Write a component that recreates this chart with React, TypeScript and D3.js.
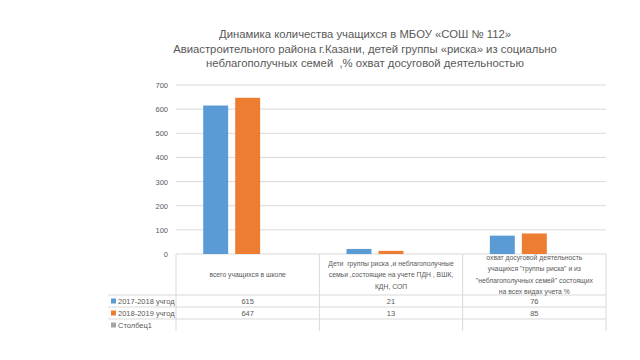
import React from 'react';
import * as d3 from 'd3';

// chart data
const categories = [
  ['всего учащихся в школе'],
  ['Дети  группы риска ,и неблагополучные', 'семьи ,состоящие на учете ПДН , ВШК,', 'КДН, СОП'],
  ['охват досуговой деятельность', 'учащихся "группы риска" и из', '"неблагополучных семей" состоящих', 'на всех видах учета %'],
];
const seriesNames = ['2017-2018 учгод', '2018-2019 учгод', 'Столбец1'];
const values2017 = [615, 21, 76];
const values2018 = [647, 13, 85];
const valuesCol1: (number | null)[] = [null, null, null];
const yTicks = [0, 100, 200, 300, 400, 500, 600, 700];
const titleLines = [
  'Динамика количества учащихся в МБОУ «СОШ № 112»',
  'Авиастроительного района г.Казани, детей группы «риска» из социально',
  'неблагополучных семей  ,% охват досуговой деятельностью',
];

const colors = ['#5b9bd5', '#ed7d31', '#a5a5a5'];
const FONT = "'Liberation Sans', Arial, sans-serif";

export default function App() {
  const series = [values2017, values2018, valuesCol1];
  const left = 176, right = 606, top = 85, bottom = 254;
  const tableLeft = 108;

  const x = d3.scaleBand<number>().domain(categories.map((_, i) => i)).range([left, right]).padding(0);
  const xs = d3.scaleBand<number>().domain(seriesNames.map((_, i) => i))
    .range([0, x.bandwidth()]).paddingInner(0.22).paddingOuter(0.85);
  const y = d3.scaleLinear().domain([0, 700]).range([bottom, top]);

  //table rows
  const headerBottom = 295;
  const rowH = 12;
  const tableBottom = 331;
  const rowLines = [headerBottom, headerBottom + rowH, headerBottom + rowH * 2];

  const headerLineH = 11.5;

  return (
    <div style={{ position: 'absolute', left: 0, top: 0 }}>
      <svg width={640} height={360} style={{ display: 'block', background: '#fff' }} fontFamily={FONT}>
        {/* title */}
        {titleLines.map((t, i) => (
          <text key={i} x={365} y={38 + i * 14.5} textAnchor="middle" fontSize={11.3} fill="#595959"
            style={{ whiteSpace: 'pre' }}>{t}</text>
        ))}

        {/* grid + y axis */}
        {yTicks.map((t) => (
          <g key={t}>
            <line x1={left} x2={right} y1={y(t)} y2={y(t)} stroke="#d9d9d9" strokeWidth={1} />
            <text x={168} y={y(t) + 3} textAnchor="end" fontSize={7.5} fill="#595959">{t}</text>
          </g>
        ))}

        {/* bars */}
        {series.map((vals, si) => (
          <g key={si}>
            {vals.map((v, ci) => v == null ? null : (
              <rect key={ci}
                x={(x(ci) as number) + (xs(si) as number)}
                y={y(v)}
                width={xs.bandwidth()}
                height={y(0) - y(v)}
                fill={colors[si]} />
            ))}
          </g>
        ))}

        {/* data table */}
        {categories.map((_, ci) => (
          <line key={ci} x1={x(ci)} x2={x(ci)} y1={bottom} y2={tableBottom} stroke="#d9d9d9" />
        ))}
        <line x1={right} x2={right} y1={bottom} y2={tableBottom} stroke="#d9d9d9" />
        {rowLines.map((ry, i) => (
          <line key={i} x1={tableLeft} x2={right} y1={ry} y2={ry} stroke="#d9d9d9" />
        ))}

        {categories.map((lines, ci) => {
          const cx = (x(ci) as number) + x.bandwidth() / 2;
          const mid = (bottom + headerBottom) / 2;
          const start = mid - ((lines.length - 1) * headerLineH) / 2;
          return lines.map((l, li) => (
            <text key={ci + '-' + li} x={cx} y={start + li * headerLineH + 2.5} textAnchor="middle" fontSize={6.8}
              fill="#595959" style={{ whiteSpace: 'pre' }}>{l}</text>
          ));
        })}

        {seriesNames.map((name, si) => (
          <g key={name}>
            <rect x={tableLeft + 3} y={headerBottom + si * rowH + 3.5} width={5} height={5} fill={colors[si]} />
            <text x={tableLeft + 10} y={headerBottom + si * rowH + 9} fontSize={7.5} fill="#595959">{name}</text>
            {series[si].map((v, ci) => v == null ? null : (
              <text key={ci} x={(x(ci) as number) + x.bandwidth() / 2} y={headerBottom + si * rowH + 9}
                textAnchor="middle" fontSize={7.5} fill="#595959">{v}</text>
            ))}
          </g>
        ))}
      </svg>
    </div>
  );
}
